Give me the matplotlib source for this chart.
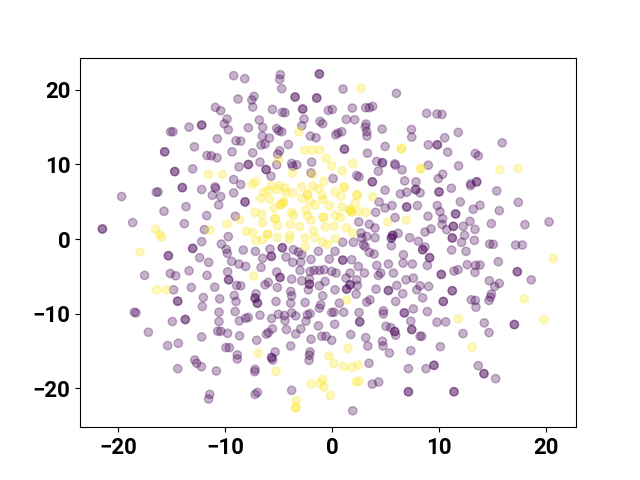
import matplotlib
matplotlib.use('Agg')
import matplotlib.pyplot as plt
import numpy as np

plt.rcParams['font.family'] = 'Roboto'
plt.rcParams['font.weight'] = 'bold'
plt.rcParams['font.size'] = 16

# single points, class 0
purple = [
    (-9.19,21.88),(-8.16,21.48),(-8.78,18.75),(-10.90,17.63),(-10.40,17.19),(-9.81,16.07),(-10.06,15.44),(-9.69,14.64),
    (-13.36,14.99),(-15.08,14.37),(-14.86,14.37),(-10.72,13.43),(-8.97,13.16),(-8.53,13.11),(-12.86,12.35),(-9.34,11.68),
    (-11.68,11.19),(-11.28,11.15),(-10.75,10.88),(-13.02,9.40),(-8.69,9.67),(-9.19,7.97),
    (-4.83,22.02),(-4.89,21.39),(-4.70,20.14),(1.03,20.09),(6.02,19.51),(-7.29,19.11),(-7.50,18.62),(-7.41,17.68),
    (-5.57,17.36),(-4.64,16.96),(-4.39,16.92),(-0.34,17.23),(0.03,17.36),(1.90,17.54),(3.15,17.59),(3.49,17.59),(3.80,17.77),
    (-6.79,15.93),(-2.61,16.07),(-1.12,15.75),(-0.87,15.44),(1.34,16.02),(2.12,15.98),(3.18,15.40),(3.12,14.99),(-2.83,15.17),
    (-7.82,14.90),(-6.48,14.95),(-5.17,14.81),(-4.98,14.50),(-4.70,14.37),(4.68,14.73),(7.42,14.68),(0.91,14.37),(0.56,14.19),
    (0.35,13.96),(3.24,14.37),(3.27,13.79),(7.45,13.65),(-2.02,13.79),(-1.49,13.56),(-6.51,13.79),(-5.85,13.52),(-6.26,12.71),
    (-6.63,12.58),(-7.41,11.55),(-4.08,12.67),(-4.89,11.82),(-5.07,11.37),(4.96,12.40),(3.31,11.50),(-6.73,10.30),(-5.17,9.94),
    (-1.90,10.30),(-3.77,10.12),(-3.67,9.76),(-3.30,9.94),(-5.70,8.42),(4.18,10.39),(5.86,10.07),(5.92,9.89),(6.55,9.27),
    (4.33,9.09),(-1.96,8.86),(2.31,8.51),(2.53,8.33),(0.10,8.10),(6.79,7.79),(7.85,7.66),
    (8.84,16.83),(9.81,16.74),(10.28,16.69),(11.80,14.28),(10.53,13.56),(9.00,12.62),(15.91,12.89),(10.81,11.64),(13.39,11.46),
    (13.67,11.15),(9.00,9.89),(11.83,9.80),(10.34,8.68),(9.93,8.10),(12.96,7.40),
    (-19.66,5.69),(-16.42,6.27),(-16.26,6.31),(-12.18,6.63),(-10.93,6.98),(-10.87,6.80),(-11.18,5.86),(-10.40,5.69),(-9.19,6.18),
    (-8.53,7.30),(-10.59,4.57),(-13.64,4.34),(-15.70,3.72),(-11.71,3.14),(-9.03,3.05),(-18.63,2.20),(-13.80,2.06),(-11.93,1.26),
    (-9.69,0.32),(-12.18,-0.35),(-10.34,-0.67),(-9.87,-1.38),(-9.78,-1.92),(-8.29,-1.47),(-12.37,-2.50),(-11.53,-3.13),
    (-9.38,-2.99),(-8.69,-3.35),(-8.07,-3.67),(-9.75,-4.38),(-17.51,-4.87),(-15.11,-4.61),(-14.61,-4.92),(-13.36,-4.25),
    (-11.68,-4.87),(-8.91,-6.22),(-8.53,-6.26),(-14.80,-6.80),(-13.15,-6.48),(-10.96,-6.44),(-9.13,-7.56),(-12.02,-7.83),
    (-10.50,-8.01),(-8.97,-8.36),(-12.12,-9.03),
    (4.96,6.54),(6.39,6.04),(6.98,6.27),(8.23,6.18),(4.40,4.97),(4.96,4.16),(5.61,4.48),(7.98,4.48),(4.08,3.58),(5.89,2.87),
    (2.50,2.29),(3.49,1.97),(4.02,1.48),(2.71,0.81),(3.24,0.36),(4.02,0.18),(2.78,0.14),(6.17,0.76),(7.26,0.18),(2.93,-0.76),
    (3.09,-1.00),(5.55,-0.89),(8.07,-0.31),(2.00,-0.44),(1.00,-0.44),(-7.16,-1.65),(-5.79,-1.34),(-3.61,-1.43),(-3.14,-1.74),
    (-2.83,-2.10),(-1.27,-1.65),(0.28,-1.65),(3.49,-1.79),(3.93,-2.01),(5.27,-3.35),(-6.48,-2.59),(-4.30,-2.41),(-3.67,-3.13),
    (-2.92,-3.08),(-1.96,-2.73),(-0.25,-2.68),(1.84,-2.77),(2.46,-3.67),(6.67,-2.10),(7.51,-3.35),(6.64,-3.22),(-6.63,-3.80),
    (-5.17,-4.43),(-3.77,-5.37),(-2.99,-4.20),(-2.05,-4.34),(-1.65,-4.20),(-1.18,-4.20),(-0.74,-4.11),(-0.03,-4.34),(0.38,-4.56),
    (1.69,-4.56),(3.03,-4.56),(4.18,-3.53),(4.55,-4.56),(4.33,-4.87),(5.74,-4.56),(6.92,-5.46),(7.60,-5.23),(-6.26,-6.13),
    (-5.95,-5.81),(-5.11,-6.48),(-2.83,-5.59),(-2.11,-5.37),(-2.21,-6.80),(-0.65,-5.68),(-1.18,-6.26),(0.28,-6.80),(1.31,-5.23),
    (2.31,-5.46),(2.37,-6.22),(2.25,-7.38),(4.12,-6.71),(6.05,-6.22),(6.61,-7.33),(7.92,-6.80),(-7.10,-7.33),(-5.23,-8.36),
    (-3.86,-7.02),(-3.77,-7.60),(-3.86,-8.59),(-2.52,-8.50),(-0.87,-7.60),(-1.06,-8.81),(0.69,-8.59),(3.55,-8.14),(3.24,-8.45),(5.95,-8.36),
    (11.15,6.80),(12.96,7.16),(15.39,6.45),(17.41,4.92),(11.99,4.97),(9.84,4.48),(13.83,4.52),(13.20,3.99),(15.63,3.81),(10.09,3.67),
    (8.97,3.05),(10.34,2.73),(12.89,2.37),(10.28,1.97),(14.89,2.06),(18.03,1.93),(20.28,2.29),(12.27,1.70),(10.71,1.26),(9.25,1.35),
    (8.69,0.94),(13.36,1.30),(12.39,0.50),(12.11,-0.44),(13.30,-0.18),(14.73,-0.67),(15.07,-0.71),(17.16,-0.80),(17.78,-0.80),
    (8.69,-1.07),(11.18,-1.47),(12.52,-1.65),(8.91,-3.53),(15.54,-3.04),(12.64,-3.44),(13.42,-3.53),(13.83,-3.48),(11.40,-4.29),
    (11.77,-4.11),(13.36,-4.47),(18.62,-5.46),(14.70,-5.59),(15.63,-5.95),(15.20,-6.35),(9.03,-6.35),(8.22,-6.26),(14.89,-7.38),
    (14.82,-7.78),(14.67,-8.23),(13.02,-8.14),(13.39,-8.23),(8.47,-7.87),(13.45,-9.12),
    (-18.47,-9.80),(-18.32,-9.89),(-14.92,-11.05),(-17.16,-12.48),(-10.56,-9.80),(-9.06,-9.71),(-10.56,-11.05),(-8.66,-10.96),
    (-8.07,-10.60),(-7.82,-10.50),(-10.68,-12.35),(-10.40,-12.35),(-9.75,-12.62),(-12.18,-13.11),(-8.63,-12.97),(-14.36,-13.96),
    (-15.36,-14.27),(-9.91,-14.54),(-9.59,-14.54),(-8.85,-15.52),(-8.85,-16.06),(-12.83,-16.20),(-12.65,-16.64),(-12.21,-17.09),
    (-14.42,-17.36),(-10.81,-17.67),(-11.43,-20.80),(-11.53,-21.43),
    (-6.73,-10.20),(-5.64,-10.65),(-5.01,-10.07),(-4.45,-10.24),(-4.39,-10.92),(-3.77,-9.89),(-3.39,-10.29),(-2.05,-9.98),(-2.30,-10.15),
    (-2.43,-11.00),(-1.18,-9.26),(-0.03,-9.84),(0.19,-9.80),(1.09,-9.80),(2.53,-9.84),(4.80,-9.62),(4.80,-10.02),(7.60,-9.35),
    (7.36,-11.00),(0.25,-11.41),(-1.27,-11.63),(-2.92,-12.03),(-4.26,-12.12),(-5.57,-12.03),(-5.95,-12.53),(-6.13,-12.75),(-3.39,-12.71),
    (1.75,-12.79),(5.05,-11.68),(5.49,-11.86),(5.95,-12.88),(8.23,-13.02),(-0.96,-13.02),(-0.56,-13.02),(-0.03,-13.56),(-1.96,-13.42),
    (3.15,-13.20),(4.71,-13.69),(4.77,-14.32),(3.34,-14.32),(-7.04,-13.56),(-3.86,-14.32),(5.36,-15.26),(7.36,-14.94),(-5.32,-15.12),
    (-5.54,-16.20),(-2.05,-15.12),(-2.11,-15.57),(-2.15,-16.24),(3.46,-16.64),(7.14,-17.36),(-7.19,-17.45),(-7.22,-17.76),(-3.77,-20.26),
    (-7.19,-20.80),(-6.97,-20.54),(3.77,-19.42),(4.36,-19.15),(1.94,-23.00),
    (8.91,-9.71),(9.81,-11.14),(10.62,-11.09),(14.23,-11.23),(12.24,-12.66),(14.67,-12.53),(8.38,-13.02),(10.12,-14.41),(8.78,-17.36),
    (13.67,-16.96),(15.29,-18.70),
]

# class 0 spots that look twice as dark (two points on top of each other)
purple_dark = [
    (-12.18,15.26),(-15.64,11.68),(-14.70,9.04),(-7.82,9.98),(-1.18,22.11),(-3.45,19.02),(-1.43,18.89),(-2.74,17.41),(1.16,12.04),
    (4.71,10.21),(-6.16,9.31),(3.77,7.66),(9.84,12.62),(13.52,7.66),(-13.99,6.89),(-8.13,4.97),(-21.46,1.35),(-13.02,-1.25),
    (-15.29,-2.23),(-9.66,-5.46),(-14.42,-8.32),(7.82,6.63),(6.98,4.30),(5.67,0.50),(5.55,0.14),(-4.64,-1.16),(-5.67,-2.32),
    (1.00,-2.82),(-4.86,-5.14),(-2.11,-6.04),(1.69,-6.13),(1.37,-6.71),(5.27,-6.89),(-6.97,-8.59),(-7.19,-7.92),(10.00,6.31),
    (11.55,3.36),(11.34,1.70),(11.24,0.14),(8.47,-1.43),(9.12,-2.50),(10.21,-4.74),(17.32,-4.38),(11.24,-6.93),(10.40,-8.36),
    (-13.71,-10.78),(6.76,-9.89),(2.59,-11.09),(5.86,-12.39),(7.45,-12.12),(-5.64,-15.88),(7.14,-20.45),(17.04,-11.45),(9.53,-16.91),
    (14.20,-18.03),(11.40,-20.45),
]

# class 1
yellow = [
    (-11.56,8.68),(-10.25,8.64),(2.71,20.18),(-3.08,14.37),(-2.55,11.91),(-1.83,11.91),(-1.15,11.95),(-0.53,10.79),(-0.03,9.80),
    (1.94,10.12),(0.97,9.13),(-5.01,10.56),(8.26,9.40),(-3.70,8.86),(-1.83,8.64),(-0.78,7.75),(-7.16,7.66),(8.34,9.45),(15.70,9.31),(17.38,9.45),
    (-8.63,2.60),(-9.78,2.02),(-16.48,1.30),(-16.10,0.63),(-15.92,0.23),(-11.40,1.21),(-8.00,1.03),(-17.94,-1.74),(-16.38,-6.80),(-15.48,-6.80),
    (-7.44,7.30),(-6.41,6.31),(-5.70,7.16),(-4.89,7.16),(-5.95,6.49),(-5.17,6.63),(-4.39,6.85),(-6.66,5.42),(-5.85,5.33),(-4.33,6.18),(-3.67,6.18),
    (-2.83,7.03),(-1.80,7.07),(-1.27,6.76),(-2.83,5.46),(-0.96,5.86),(-0.81,5.28),(0.28,6.27),(0.84,5.73),(2.18,4.84),(3.80,5.64),(-2.05,4.97),
    (-1.59,4.57),(-0.25,4.48),(-5.39,4.12),(-7.22,3.58),(-6.54,3.31),(-3.77,3.58),(-3.58,3.18),(-2.43,3.85),(-2.27,3.14),(-1.96,2.51),(0.32,3.18),
    (0.94,4.30),(0.78,2.91),(2.50,3.72),(3.18,3.58),(-6.48,2.15),(-5.07,1.79),(-3.92,1.97),(-3.05,1.66),(-0.62,1.61),(0.19,1.75),(1.34,1.52),
    (5.21,2.29),(6.95,2.55),(-7.41,0.90),(-3.95,0.50),(-1.74,1.12),(-2.52,0.14),(-1.59,0.23),(1.94,0.81),(-7.10,-0.18),(-6.48,-0.09),(-5.11,0.23),
    (-3.98,0.00),(0.34,0.05),(-0.87,-0.40),(-0.43,-0.71),(-2.52,-1.07),(-7.32,-4.96),(1.37,-8.18),(20.68,-2.59),(17.97,-8.01),
    (-6.91,-15.30),(-5.23,-17.72),(1.50,-14.63),(-0.28,-15.66),(0.19,-16.69),(1.09,-17.05),(1.87,-17.18),(2.46,-16.87),(-1.99,-19.42),
    (-0.87,-18.83),(-1.12,-19.33),(-0.74,-19.82),(-0.15,-20.94),(2.25,-19.15),(2.50,-19.01),(-3.33,-21.65),(11.80,-10.69),(19.81,-10.78),(13.08,-14.49),
]

yellow_dark = [
    (6.48,12.09),(-2.30,5.95),(1.13,6.94),(2.34,5.91),(-4.54,4.92),(-4.79,4.61),(-5.32,2.73),(-0.81,2.91),(1.69,3.94),(1.81,3.63),
    (-6.01,0.63),(-3.39,-22.59),
]

tick_vals_x = [-20, -10, 0, 10, 20]
tick_vals_y = [-20, -10, 0, 10, 20]

pts = np.array(purple + purple_dark + purple_dark + yellow + yellow_dark + yellow_dark)
labels = np.array([0] * (len(purple) + 2 * len(purple_dark)) + [1] * (len(yellow) + 2 * len(yellow_dark)))

fig, ax = plt.subplots(figsize=(6.4, 4.8), dpi=100)
ax.scatter(pts[:, 0], pts[:, 1], c=labels, cmap='viridis', alpha=0.3)
ax.set_xlim(-23.55, 22.8)
ax.set_ylim(-25.2, 24.3)
ax.set_xticks(tick_vals_x)
ax.set_yticks(tick_vals_y)

plt.savefig('out.png')
